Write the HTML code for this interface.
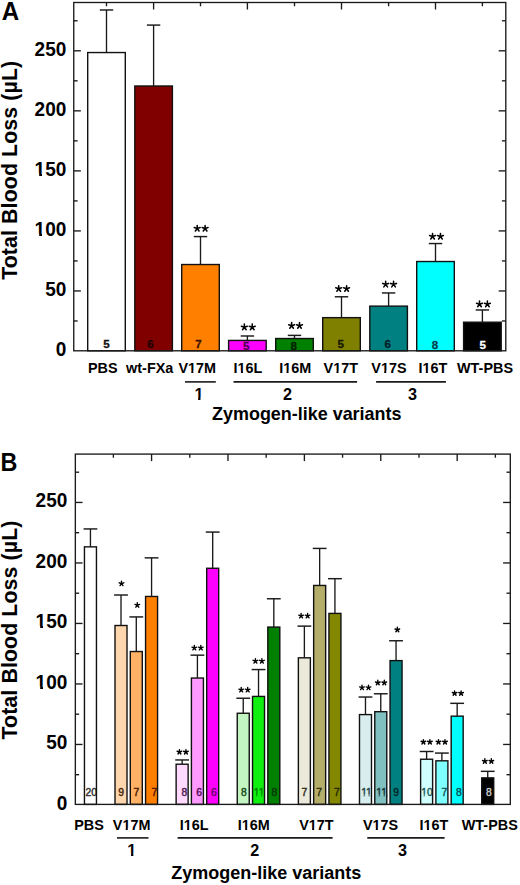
<!DOCTYPE html>
<html><head><meta charset="utf-8"><title>Total Blood Loss</title>
<style>
html,body{margin:0;padding:0;background:#fff;}
body{width:520px;height:885px;overflow:hidden;}
svg{display:block;font-family:"Liberation Sans", sans-serif;}
</style></head><body>
<svg width="520" height="885" viewBox="0 0 520 885">
<line x1="73.75" y1="320.98" x2="77.65" y2="320.98" stroke="#1a1a1a" stroke-width="1.35"/>
<line x1="505.80" y1="320.98" x2="501.90" y2="320.98" stroke="#1a1a1a" stroke-width="1.35"/>
<line x1="73.75" y1="290.96" x2="80.85" y2="290.96" stroke="#1a1a1a" stroke-width="1.35"/>
<line x1="505.80" y1="290.96" x2="498.70" y2="290.96" stroke="#1a1a1a" stroke-width="1.35"/>
<line x1="73.75" y1="260.94" x2="77.65" y2="260.94" stroke="#1a1a1a" stroke-width="1.35"/>
<line x1="505.80" y1="260.94" x2="501.90" y2="260.94" stroke="#1a1a1a" stroke-width="1.35"/>
<line x1="73.75" y1="230.92" x2="80.85" y2="230.92" stroke="#1a1a1a" stroke-width="1.35"/>
<line x1="505.80" y1="230.92" x2="498.70" y2="230.92" stroke="#1a1a1a" stroke-width="1.35"/>
<line x1="73.75" y1="200.90" x2="77.65" y2="200.90" stroke="#1a1a1a" stroke-width="1.35"/>
<line x1="505.80" y1="200.90" x2="501.90" y2="200.90" stroke="#1a1a1a" stroke-width="1.35"/>
<line x1="73.75" y1="170.88" x2="80.85" y2="170.88" stroke="#1a1a1a" stroke-width="1.35"/>
<line x1="505.80" y1="170.88" x2="498.70" y2="170.88" stroke="#1a1a1a" stroke-width="1.35"/>
<line x1="73.75" y1="140.86" x2="77.65" y2="140.86" stroke="#1a1a1a" stroke-width="1.35"/>
<line x1="505.80" y1="140.86" x2="501.90" y2="140.86" stroke="#1a1a1a" stroke-width="1.35"/>
<line x1="73.75" y1="110.84" x2="80.85" y2="110.84" stroke="#1a1a1a" stroke-width="1.35"/>
<line x1="505.80" y1="110.84" x2="498.70" y2="110.84" stroke="#1a1a1a" stroke-width="1.35"/>
<line x1="73.75" y1="80.82" x2="77.65" y2="80.82" stroke="#1a1a1a" stroke-width="1.35"/>
<line x1="505.80" y1="80.82" x2="501.90" y2="80.82" stroke="#1a1a1a" stroke-width="1.35"/>
<line x1="73.75" y1="50.80" x2="80.85" y2="50.80" stroke="#1a1a1a" stroke-width="1.35"/>
<line x1="505.80" y1="50.80" x2="498.70" y2="50.80" stroke="#1a1a1a" stroke-width="1.35"/>
<line x1="73.75" y1="20.78" x2="77.65" y2="20.78" stroke="#1a1a1a" stroke-width="1.35"/>
<line x1="505.80" y1="20.78" x2="501.90" y2="20.78" stroke="#1a1a1a" stroke-width="1.35"/>
<text transform="translate(66.30,356.20) scale(0.96,1)" font-size="19.8" font-weight="bold" text-anchor="end" fill="#000" >0</text>
<text transform="translate(66.30,296.16) scale(0.96,1)" font-size="19.8" font-weight="bold" text-anchor="end" fill="#000" >50</text>
<text transform="translate(66.30,236.12) scale(0.96,1)" font-size="19.8" font-weight="bold" text-anchor="end" fill="#000" >100</text>
<rect x="34.85" y="233.70" width="4.32" height="3.32" fill="#ffffff"/>
<rect x="42.00" y="233.70" width="4.07" height="3.32" fill="#ffffff"/>
<text transform="translate(66.30,176.08) scale(0.96,1)" font-size="19.8" font-weight="bold" text-anchor="end" fill="#000" >150</text>
<rect x="34.85" y="173.66" width="4.32" height="3.32" fill="#ffffff"/>
<rect x="42.00" y="173.66" width="4.07" height="3.32" fill="#ffffff"/>
<text transform="translate(66.30,116.04) scale(0.96,1)" font-size="19.8" font-weight="bold" text-anchor="end" fill="#000" >200</text>
<text transform="translate(66.30,56.00) scale(0.96,1)" font-size="19.8" font-weight="bold" text-anchor="end" fill="#000" >250</text>
<line x1="106.50" y1="2.50" x2="106.50" y2="6.30" stroke="#1a1a1a" stroke-width="1.35"/>
<rect x="87.70" y="52.55" width="37.60" height="298.25" fill="#ffffff"/>
<text x="106.45" y="347.60" font-size="11.6" font-weight="bold" text-anchor="middle" fill="#111" stroke="#111" stroke-width="0.3">5</text>
<rect x="87.70" y="52.55" width="37.60" height="298.25" fill="none" stroke="#111" stroke-width="1.4"/>
<line x1="106.50" y1="52.55" x2="106.50" y2="9.98" stroke="#1a1a1a" stroke-width="1.35"/>
<line x1="99.80" y1="9.98" x2="113.20" y2="9.98" stroke="#1a1a1a" stroke-width="1.45"/>
<line x1="153.60" y1="2.50" x2="153.60" y2="9.50" stroke="#1a1a1a" stroke-width="1.35"/>
<rect x="134.80" y="86.00" width="37.60" height="264.80" fill="#800000"/>
<text x="150.60" y="347.70" font-size="11.6" font-weight="bold" text-anchor="middle" fill="#200000" stroke="#200000" stroke-width="0.3">6</text>
<rect x="134.80" y="86.00" width="37.60" height="264.80" fill="none" stroke="#111" stroke-width="1.4"/>
<line x1="153.60" y1="86.00" x2="153.60" y2="25.09" stroke="#1a1a1a" stroke-width="1.35"/>
<line x1="146.90" y1="25.09" x2="160.30" y2="25.09" stroke="#1a1a1a" stroke-width="1.45"/>
<line x1="200.50" y1="2.50" x2="200.50" y2="6.30" stroke="#1a1a1a" stroke-width="1.35"/>
<rect x="181.70" y="264.53" width="37.60" height="86.27" fill="#ff8000"/>
<text x="198.60" y="347.70" font-size="11.6" font-weight="bold" text-anchor="middle" fill="#401400" stroke="#401400" stroke-width="0.3">7</text>
<rect x="181.70" y="264.53" width="37.60" height="86.27" fill="none" stroke="#111" stroke-width="1.4"/>
<line x1="200.50" y1="264.53" x2="200.50" y2="236.59" stroke="#1a1a1a" stroke-width="1.35"/>
<line x1="193.80" y1="236.59" x2="207.20" y2="236.59" stroke="#1a1a1a" stroke-width="1.45"/>
<path d="M197.20 228.50L197.20 225.40M197.20 228.50L200.15 227.54M197.20 228.50L199.02 231.00M197.20 228.50L195.38 231.00M197.20 228.50L194.25 227.54" stroke="#000" stroke-width="1.55" stroke-linecap="round" fill="none"/>
<path d="M205.10 228.50L205.10 225.40M205.10 228.50L208.05 227.54M205.10 228.50L206.92 231.00M205.10 228.50L203.28 231.00M205.10 228.50L202.15 227.54" stroke="#000" stroke-width="1.55" stroke-linecap="round" fill="none"/>
<line x1="247.40" y1="2.50" x2="247.40" y2="9.50" stroke="#1a1a1a" stroke-width="1.35"/>
<rect x="228.60" y="340.43" width="37.60" height="10.37" fill="#ff00ff"/>
<text x="246.25" y="350.20" font-size="11.6" font-weight="bold" text-anchor="middle" fill="#500050" stroke="#500050" stroke-width="0.3">5</text>
<rect x="228.60" y="340.43" width="37.60" height="10.37" fill="none" stroke="#111" stroke-width="1.4"/>
<line x1="247.40" y1="340.43" x2="247.40" y2="335.99" stroke="#1a1a1a" stroke-width="1.35"/>
<line x1="240.70" y1="335.99" x2="254.10" y2="335.99" stroke="#1a1a1a" stroke-width="1.45"/>
<path d="M244.35 327.20L244.35 324.10M244.35 327.20L247.30 326.24M244.35 327.20L246.17 329.70M244.35 327.20L242.53 329.70M244.35 327.20L241.40 326.24" stroke="#000" stroke-width="1.55" stroke-linecap="round" fill="none"/>
<path d="M252.25 327.20L252.25 324.10M252.25 327.20L255.20 326.24M252.25 327.20L254.07 329.70M252.25 327.20L250.43 329.70M252.25 327.20L249.30 326.24" stroke="#000" stroke-width="1.55" stroke-linecap="round" fill="none"/>
<line x1="294.50" y1="2.50" x2="294.50" y2="6.30" stroke="#1a1a1a" stroke-width="1.35"/>
<rect x="275.70" y="338.51" width="37.60" height="12.29" fill="#008000"/>
<text x="293.85" y="350.20" font-size="11.6" font-weight="bold" text-anchor="middle" fill="#002000" stroke="#002000" stroke-width="0.3">8</text>
<rect x="275.70" y="338.51" width="37.60" height="12.29" fill="none" stroke="#111" stroke-width="1.4"/>
<line x1="294.50" y1="338.51" x2="294.50" y2="335.39" stroke="#1a1a1a" stroke-width="1.35"/>
<line x1="287.80" y1="335.39" x2="301.20" y2="335.39" stroke="#1a1a1a" stroke-width="1.45"/>
<path d="M291.60 325.70L291.60 322.60M291.60 325.70L294.55 324.74M291.60 325.70L293.42 328.20M291.60 325.70L289.78 328.20M291.60 325.70L288.65 324.74" stroke="#000" stroke-width="1.55" stroke-linecap="round" fill="none"/>
<path d="M299.50 325.70L299.50 322.60M299.50 325.70L302.45 324.74M299.50 325.70L301.32 328.20M299.50 325.70L297.68 328.20M299.50 325.70L296.55 324.74" stroke="#000" stroke-width="1.55" stroke-linecap="round" fill="none"/>
<line x1="341.50" y1="2.50" x2="341.50" y2="9.50" stroke="#1a1a1a" stroke-width="1.35"/>
<rect x="322.70" y="317.65" width="37.60" height="33.15" fill="#808000"/>
<text x="340.75" y="348.20" font-size="11.6" font-weight="bold" text-anchor="middle" fill="#181800" stroke="#181800" stroke-width="0.3">5</text>
<rect x="322.70" y="317.65" width="37.60" height="33.15" fill="none" stroke="#111" stroke-width="1.4"/>
<line x1="341.50" y1="317.65" x2="341.50" y2="296.78" stroke="#1a1a1a" stroke-width="1.35"/>
<line x1="334.80" y1="296.78" x2="348.20" y2="296.78" stroke="#1a1a1a" stroke-width="1.45"/>
<path d="M338.70 288.75L338.70 285.65M338.70 288.75L341.65 287.79M338.70 288.75L340.52 291.25M338.70 288.75L336.88 291.25M338.70 288.75L335.75 287.79" stroke="#000" stroke-width="1.55" stroke-linecap="round" fill="none"/>
<path d="M346.60 288.75L346.60 285.65M346.60 288.75L349.55 287.79M346.60 288.75L348.42 291.25M346.60 288.75L344.78 291.25M346.60 288.75L343.65 287.79" stroke="#000" stroke-width="1.55" stroke-linecap="round" fill="none"/>
<line x1="388.60" y1="2.50" x2="388.60" y2="6.30" stroke="#1a1a1a" stroke-width="1.35"/>
<rect x="369.80" y="306.14" width="37.60" height="44.66" fill="#008080"/>
<text x="387.70" y="348.20" font-size="11.6" font-weight="bold" text-anchor="middle" fill="#06202a" stroke="#06202a" stroke-width="0.3">6</text>
<rect x="369.80" y="306.14" width="37.60" height="44.66" fill="none" stroke="#111" stroke-width="1.4"/>
<line x1="388.60" y1="306.14" x2="388.60" y2="292.95" stroke="#1a1a1a" stroke-width="1.35"/>
<line x1="381.90" y1="292.95" x2="395.30" y2="292.95" stroke="#1a1a1a" stroke-width="1.45"/>
<path d="M385.65 284.35L385.65 281.25M385.65 284.35L388.60 283.39M385.65 284.35L387.47 286.85M385.65 284.35L383.83 286.85M385.65 284.35L382.70 283.39" stroke="#000" stroke-width="1.55" stroke-linecap="round" fill="none"/>
<path d="M393.55 284.35L393.55 281.25M393.55 284.35L396.50 283.39M393.55 284.35L395.37 286.85M393.55 284.35L391.73 286.85M393.55 284.35L390.60 283.39" stroke="#000" stroke-width="1.55" stroke-linecap="round" fill="none"/>
<line x1="435.50" y1="2.50" x2="435.50" y2="9.50" stroke="#1a1a1a" stroke-width="1.35"/>
<rect x="416.70" y="261.53" width="37.60" height="89.27" fill="#00ffff"/>
<text x="435.05" y="348.90" font-size="11.6" font-weight="bold" text-anchor="middle" fill="#0a4050" stroke="#0a4050" stroke-width="0.3">8</text>
<rect x="416.70" y="261.53" width="37.60" height="89.27" fill="none" stroke="#111" stroke-width="1.4"/>
<line x1="435.50" y1="261.53" x2="435.50" y2="243.55" stroke="#1a1a1a" stroke-width="1.35"/>
<line x1="428.80" y1="243.55" x2="442.20" y2="243.55" stroke="#1a1a1a" stroke-width="1.45"/>
<path d="M432.55 236.55L432.55 233.45M432.55 236.55L435.50 235.59M432.55 236.55L434.37 239.05M432.55 236.55L430.73 239.05M432.55 236.55L429.60 235.59" stroke="#000" stroke-width="1.55" stroke-linecap="round" fill="none"/>
<path d="M440.45 236.55L440.45 233.45M440.45 236.55L443.40 235.59M440.45 236.55L442.27 239.05M440.45 236.55L438.63 239.05M440.45 236.55L437.50 235.59" stroke="#000" stroke-width="1.55" stroke-linecap="round" fill="none"/>
<line x1="482.40" y1="2.50" x2="482.40" y2="6.30" stroke="#1a1a1a" stroke-width="1.35"/>
<rect x="463.60" y="322.20" width="37.60" height="28.60" fill="#000000"/>
<text x="482.80" y="348.90" font-size="11.6" font-weight="bold" text-anchor="middle" fill="#ffffff" stroke="#ffffff" stroke-width="0.3">5</text>
<rect x="463.60" y="322.20" width="37.60" height="28.60" fill="none" stroke="#111" stroke-width="1.4"/>
<line x1="482.40" y1="322.20" x2="482.40" y2="309.97" stroke="#1a1a1a" stroke-width="1.35"/>
<line x1="475.70" y1="309.97" x2="489.10" y2="309.97" stroke="#1a1a1a" stroke-width="1.45"/>
<path d="M479.50 304.20L479.50 301.10M479.50 304.20L482.45 303.24M479.50 304.20L481.32 306.70M479.50 304.20L477.68 306.70M479.50 304.20L476.55 303.24" stroke="#000" stroke-width="1.55" stroke-linecap="round" fill="none"/>
<path d="M487.40 304.20L487.40 301.10M487.40 304.20L490.35 303.24M487.40 304.20L489.22 306.70M487.40 304.20L485.58 306.70M487.40 304.20L484.45 303.24" stroke="#000" stroke-width="1.55" stroke-linecap="round" fill="none"/>
<rect x="73.75" y="2.5" width="432.05" height="348.30" fill="none" stroke="#1a1a1a" stroke-width="1.35"/>
<text transform="translate(102.80,372.60) scale(1,1.02)" font-size="14.4" font-weight="bold" text-anchor="middle" fill="#000" >PBS</text>
<text transform="translate(149.70,372.60) scale(1,1.02)" font-size="14.4" font-weight="bold" text-anchor="middle" fill="#000" >wt-FXa</text>
<text transform="translate(197.20,372.60) scale(1,1.02)" font-size="14.4" font-weight="bold" text-anchor="middle" fill="#000" >V17M</text>
<rect x="187.90" y="370.70" width="3.40" height="2.80" fill="#ffffff"/>
<rect x="193.38" y="370.70" width="3.22" height="2.80" fill="#ffffff"/>
<text transform="translate(248.00,372.60) scale(1,1.02)" font-size="14.4" font-weight="bold" text-anchor="middle" fill="#000" >I16L</text>
<rect x="237.50" y="370.70" width="3.40" height="2.80" fill="#ffffff"/>
<rect x="242.98" y="370.70" width="3.22" height="2.80" fill="#ffffff"/>
<text transform="translate(295.20,372.60) scale(1,1.02)" font-size="14.4" font-weight="bold" text-anchor="middle" fill="#000" >I16M</text>
<rect x="283.10" y="370.70" width="3.40" height="2.80" fill="#ffffff"/>
<rect x="288.58" y="370.70" width="3.22" height="2.80" fill="#ffffff"/>
<text transform="translate(340.75,372.60) scale(1,1.02)" font-size="14.4" font-weight="bold" text-anchor="middle" fill="#000" >V17T</text>
<rect x="333.05" y="370.70" width="3.40" height="2.80" fill="#ffffff"/>
<rect x="338.53" y="370.70" width="3.22" height="2.80" fill="#ffffff"/>
<text transform="translate(388.90,372.60) scale(1,1.02)" font-size="14.4" font-weight="bold" text-anchor="middle" fill="#000" >V17S</text>
<rect x="380.79" y="370.70" width="3.40" height="2.80" fill="#ffffff"/>
<rect x="386.27" y="370.70" width="3.22" height="2.80" fill="#ffffff"/>
<text transform="translate(432.90,372.60) scale(1,1.02)" font-size="14.4" font-weight="bold" text-anchor="middle" fill="#000" >I16T</text>
<rect x="422.40" y="370.70" width="3.40" height="2.80" fill="#ffffff"/>
<rect x="427.88" y="370.70" width="3.22" height="2.80" fill="#ffffff"/>
<text transform="translate(485.00,372.60) scale(1,1.02)" font-size="14.4" font-weight="bold" text-anchor="middle" fill="#000" >WT-PBS</text>
<line x1="185.00" y1="381.90" x2="215.80" y2="381.90" stroke="#1a1a1a" stroke-width="1.6"/>
<line x1="233.50" y1="381.90" x2="357.10" y2="381.90" stroke="#1a1a1a" stroke-width="1.6"/>
<line x1="376.10" y1="381.90" x2="445.90" y2="381.90" stroke="#1a1a1a" stroke-width="1.6"/>
<text x="198.90" y="399.90" font-size="16.2" font-weight="bold" text-anchor="middle" fill="#000" >1</text>
<rect x="194.41" y="397.85" width="3.71" height="2.95" fill="#ffffff"/>
<rect x="200.45" y="397.85" width="3.50" height="2.95" fill="#ffffff"/>
<text x="287.50" y="399.90" font-size="16.2" font-weight="bold" text-anchor="middle" fill="#000" >2</text>
<text x="412.50" y="399.90" font-size="16.2" font-weight="bold" text-anchor="middle" fill="#000" >3</text>
<text transform="translate(306.75,420.20) scale(1,1.06)" font-size="17.95" font-weight="bold" text-anchor="middle" fill="#000" >Zymogen-like variants</text>
<text transform="translate(1.80,19.95) scale(0.985,1.03)" font-size="24.5" font-weight="bold" text-anchor="start" fill="#000" >A</text>
<text transform="translate(17.4,170.3) rotate(-90)" x="0" y="0" font-size="21.3" font-weight="bold" text-anchor="middle" letter-spacing="0.12">Total Blood Loss (µL)</text>
<line x1="75.35" y1="774.70" x2="79.15" y2="774.70" stroke="#1a1a1a" stroke-width="1.35"/>
<line x1="510.30" y1="774.70" x2="506.50" y2="774.70" stroke="#1a1a1a" stroke-width="1.35"/>
<line x1="75.35" y1="744.45" x2="82.55" y2="744.45" stroke="#1a1a1a" stroke-width="1.35"/>
<line x1="510.30" y1="744.45" x2="503.10" y2="744.45" stroke="#1a1a1a" stroke-width="1.35"/>
<line x1="75.35" y1="714.20" x2="79.15" y2="714.20" stroke="#1a1a1a" stroke-width="1.35"/>
<line x1="510.30" y1="714.20" x2="506.50" y2="714.20" stroke="#1a1a1a" stroke-width="1.35"/>
<line x1="75.35" y1="683.95" x2="82.55" y2="683.95" stroke="#1a1a1a" stroke-width="1.35"/>
<line x1="510.30" y1="683.95" x2="503.10" y2="683.95" stroke="#1a1a1a" stroke-width="1.35"/>
<line x1="75.35" y1="653.70" x2="79.15" y2="653.70" stroke="#1a1a1a" stroke-width="1.35"/>
<line x1="510.30" y1="653.70" x2="506.50" y2="653.70" stroke="#1a1a1a" stroke-width="1.35"/>
<line x1="75.35" y1="623.45" x2="82.55" y2="623.45" stroke="#1a1a1a" stroke-width="1.35"/>
<line x1="510.30" y1="623.45" x2="503.10" y2="623.45" stroke="#1a1a1a" stroke-width="1.35"/>
<line x1="75.35" y1="593.20" x2="79.15" y2="593.20" stroke="#1a1a1a" stroke-width="1.35"/>
<line x1="510.30" y1="593.20" x2="506.50" y2="593.20" stroke="#1a1a1a" stroke-width="1.35"/>
<line x1="75.35" y1="562.95" x2="82.55" y2="562.95" stroke="#1a1a1a" stroke-width="1.35"/>
<line x1="510.30" y1="562.95" x2="503.10" y2="562.95" stroke="#1a1a1a" stroke-width="1.35"/>
<line x1="75.35" y1="532.70" x2="79.15" y2="532.70" stroke="#1a1a1a" stroke-width="1.35"/>
<line x1="510.30" y1="532.70" x2="506.50" y2="532.70" stroke="#1a1a1a" stroke-width="1.35"/>
<line x1="75.35" y1="502.45" x2="82.55" y2="502.45" stroke="#1a1a1a" stroke-width="1.35"/>
<line x1="510.30" y1="502.45" x2="503.10" y2="502.45" stroke="#1a1a1a" stroke-width="1.35"/>
<line x1="75.35" y1="472.20" x2="79.15" y2="472.20" stroke="#1a1a1a" stroke-width="1.35"/>
<line x1="510.30" y1="472.20" x2="506.50" y2="472.20" stroke="#1a1a1a" stroke-width="1.35"/>
<text transform="translate(67.30,809.90) scale(0.96,1)" font-size="19.8" font-weight="bold" text-anchor="end" fill="#000" >0</text>
<text transform="translate(67.30,749.40) scale(0.96,1)" font-size="19.8" font-weight="bold" text-anchor="end" fill="#000" >50</text>
<text transform="translate(67.30,688.90) scale(0.96,1)" font-size="19.8" font-weight="bold" text-anchor="end" fill="#000" >100</text>
<rect x="35.85" y="686.48" width="4.32" height="3.32" fill="#ffffff"/>
<rect x="43.00" y="686.48" width="4.07" height="3.32" fill="#ffffff"/>
<text transform="translate(67.30,628.40) scale(0.96,1)" font-size="19.8" font-weight="bold" text-anchor="end" fill="#000" >150</text>
<rect x="35.85" y="625.98" width="4.32" height="3.32" fill="#ffffff"/>
<rect x="43.00" y="625.98" width="4.07" height="3.32" fill="#ffffff"/>
<text transform="translate(67.30,567.90) scale(0.96,1)" font-size="19.8" font-weight="bold" text-anchor="end" fill="#000" >200</text>
<text transform="translate(67.30,507.40) scale(0.96,1)" font-size="19.8" font-weight="bold" text-anchor="end" fill="#000" >250</text>
<line x1="113.37" y1="454.10" x2="113.37" y2="457.70" stroke="#1a1a1a" stroke-width="1.35"/>
<line x1="151.57" y1="454.10" x2="151.57" y2="461.10" stroke="#1a1a1a" stroke-width="1.35"/>
<line x1="189.77" y1="454.10" x2="189.77" y2="457.70" stroke="#1a1a1a" stroke-width="1.35"/>
<line x1="227.97" y1="454.10" x2="227.97" y2="461.10" stroke="#1a1a1a" stroke-width="1.35"/>
<line x1="266.17" y1="454.10" x2="266.17" y2="457.70" stroke="#1a1a1a" stroke-width="1.35"/>
<line x1="304.37" y1="454.10" x2="304.37" y2="461.10" stroke="#1a1a1a" stroke-width="1.35"/>
<line x1="342.57" y1="454.10" x2="342.57" y2="457.70" stroke="#1a1a1a" stroke-width="1.35"/>
<line x1="380.77" y1="454.10" x2="380.77" y2="461.10" stroke="#1a1a1a" stroke-width="1.35"/>
<line x1="418.97" y1="454.10" x2="418.97" y2="457.70" stroke="#1a1a1a" stroke-width="1.35"/>
<line x1="457.17" y1="454.10" x2="457.17" y2="461.10" stroke="#1a1a1a" stroke-width="1.35"/>
<line x1="495.37" y1="454.10" x2="495.37" y2="457.70" stroke="#1a1a1a" stroke-width="1.35"/>
<rect x="84.45" y="546.85" width="12.00" height="257.55" fill="#ffffff"/>
<text x="91.25" y="795.80" font-size="10.3" font-weight="normal" text-anchor="middle" fill="#333" stroke="#333" stroke-width="0.45">20</text>
<rect x="84.45" y="546.85" width="12.00" height="257.55" fill="none" stroke="#111" stroke-width="1.4"/>
<line x1="90.45" y1="546.85" x2="90.45" y2="528.94" stroke="#1a1a1a" stroke-width="1.35"/>
<line x1="83.55" y1="528.94" x2="97.35" y2="528.94" stroke="#1a1a1a" stroke-width="1.45"/>
<rect x="115.01" y="625.51" width="12.00" height="178.89" fill="#fdd6ae"/>
<text x="121.21" y="795.80" font-size="10.3" font-weight="normal" text-anchor="middle" fill="#4a2a10" stroke="#4a2a10" stroke-width="0.45">9</text>
<rect x="115.01" y="625.51" width="12.00" height="178.89" fill="none" stroke="#111" stroke-width="1.4"/>
<line x1="121.01" y1="625.51" x2="121.01" y2="595.01" stroke="#1a1a1a" stroke-width="1.35"/>
<line x1="114.11" y1="595.01" x2="127.91" y2="595.01" stroke="#1a1a1a" stroke-width="1.45"/>
<path d="M121.50 583.58L121.50 581.13M121.50 583.58L123.83 582.83M121.50 583.58L122.94 585.57M121.50 583.58L120.06 585.57M121.50 583.58L119.17 582.83" stroke="#000" stroke-width="1.4" stroke-linecap="round" fill="none"/>
<rect x="130.29" y="651.53" width="12.00" height="152.87" fill="#ffb266"/>
<text x="136.29" y="795.80" font-size="10.3" font-weight="normal" text-anchor="middle" fill="#4a2000" stroke="#4a2000" stroke-width="0.45">7</text>
<rect x="130.29" y="651.53" width="12.00" height="152.87" fill="none" stroke="#111" stroke-width="1.4"/>
<line x1="136.29" y1="651.53" x2="136.29" y2="616.92" stroke="#1a1a1a" stroke-width="1.35"/>
<line x1="129.39" y1="616.92" x2="143.19" y2="616.92" stroke="#1a1a1a" stroke-width="1.45"/>
<path d="M137.30 605.18L137.30 602.73M137.30 605.18L139.63 604.43M137.30 605.18L138.74 607.17M137.30 605.18L135.86 607.17M137.30 605.18L134.97 604.43" stroke="#000" stroke-width="1.4" stroke-linecap="round" fill="none"/>
<rect x="145.57" y="596.47" width="12.00" height="207.93" fill="#ff8000"/>
<text x="154.37" y="795.80" font-size="10.3" font-weight="normal" text-anchor="middle" fill="#5a1800" stroke="#5a1800" stroke-width="0.45">7</text>
<rect x="145.57" y="596.47" width="12.00" height="207.93" fill="none" stroke="#111" stroke-width="1.4"/>
<line x1="151.57" y1="596.47" x2="151.57" y2="557.86" stroke="#1a1a1a" stroke-width="1.35"/>
<line x1="144.67" y1="557.86" x2="158.47" y2="557.86" stroke="#1a1a1a" stroke-width="1.45"/>
<rect x="176.13" y="764.20" width="12.00" height="40.20" fill="#ffd9ff"/>
<text x="184.43" y="795.80" font-size="10.3" font-weight="normal" text-anchor="middle" fill="#501850" stroke="#501850" stroke-width="0.45">8</text>
<rect x="176.13" y="764.20" width="12.00" height="40.20" fill="none" stroke="#111" stroke-width="1.4"/>
<line x1="182.13" y1="764.20" x2="182.13" y2="759.96" stroke="#1a1a1a" stroke-width="1.35"/>
<line x1="175.23" y1="759.96" x2="189.03" y2="759.96" stroke="#1a1a1a" stroke-width="1.45"/>
<path d="M179.45 752.03L179.45 749.58M179.45 752.03L181.78 751.28M179.45 752.03L180.89 754.02M179.45 752.03L178.01 754.02M179.45 752.03L177.12 751.28" stroke="#000" stroke-width="1.4" stroke-linecap="round" fill="none"/>
<path d="M185.95 752.03L185.95 749.58M185.95 752.03L188.28 751.28M185.95 752.03L187.39 754.02M185.95 752.03L184.51 754.02M185.95 752.03L183.62 751.28" stroke="#000" stroke-width="1.4" stroke-linecap="round" fill="none"/>
<rect x="191.41" y="678.03" width="12.00" height="126.37" fill="#ff99ff"/>
<text x="199.21" y="795.80" font-size="10.3" font-weight="normal" text-anchor="middle" fill="#581058" stroke="#581058" stroke-width="0.45">6</text>
<rect x="191.41" y="678.03" width="12.00" height="126.37" fill="none" stroke="#111" stroke-width="1.4"/>
<line x1="197.41" y1="678.03" x2="197.41" y2="655.16" stroke="#1a1a1a" stroke-width="1.35"/>
<line x1="190.51" y1="655.16" x2="204.31" y2="655.16" stroke="#1a1a1a" stroke-width="1.45"/>
<path d="M194.30 647.88L194.30 645.43M194.30 647.88L196.63 647.13M194.30 647.88L195.74 649.87M194.30 647.88L192.86 649.87M194.30 647.88L191.97 647.13" stroke="#000" stroke-width="1.4" stroke-linecap="round" fill="none"/>
<path d="M200.80 647.88L200.80 645.43M200.80 647.88L203.13 647.13M200.80 647.88L202.24 649.87M200.80 647.88L199.36 649.87M200.80 647.88L198.47 647.13" stroke="#000" stroke-width="1.4" stroke-linecap="round" fill="none"/>
<rect x="206.69" y="568.27" width="12.00" height="236.13" fill="#ff00ff"/>
<text x="213.99" y="795.80" font-size="10.3" font-weight="normal" text-anchor="middle" fill="#700070" stroke="#700070" stroke-width="0.45">6</text>
<rect x="206.69" y="568.27" width="12.00" height="236.13" fill="none" stroke="#111" stroke-width="1.4"/>
<line x1="212.69" y1="568.27" x2="212.69" y2="532.08" stroke="#1a1a1a" stroke-width="1.35"/>
<line x1="205.79" y1="532.08" x2="219.59" y2="532.08" stroke="#1a1a1a" stroke-width="1.45"/>
<rect x="237.25" y="713.25" width="12.00" height="91.15" fill="#c2f5c2"/>
<text x="243.75" y="795.80" font-size="10.3" font-weight="normal" text-anchor="middle" fill="#1a4a1a" stroke="#1a4a1a" stroke-width="0.45">8</text>
<rect x="237.25" y="713.25" width="12.00" height="91.15" fill="none" stroke="#111" stroke-width="1.4"/>
<line x1="243.25" y1="713.25" x2="243.25" y2="698.24" stroke="#1a1a1a" stroke-width="1.35"/>
<line x1="236.35" y1="698.24" x2="250.15" y2="698.24" stroke="#1a1a1a" stroke-width="1.45"/>
<path d="M241.20 689.88L241.20 687.43M241.20 689.88L243.53 689.13M241.20 689.88L242.64 691.87M241.20 689.88L239.76 691.87M241.20 689.88L238.87 689.13" stroke="#000" stroke-width="1.4" stroke-linecap="round" fill="none"/>
<path d="M247.70 689.88L247.70 687.43M247.70 689.88L250.03 689.13M247.70 689.88L249.14 691.87M247.70 689.88L246.26 691.87M247.70 689.88L245.37 689.13" stroke="#000" stroke-width="1.4" stroke-linecap="round" fill="none"/>
<rect x="252.53" y="696.43" width="12.00" height="107.97" fill="#10f010"/>
<text x="259.03" y="795.80" font-size="10.3" font-weight="normal" text-anchor="middle" fill="#008800" stroke="#008800" stroke-width="0.45">11</text>
<rect x="253.23" y="794.40" width="2.99" height="2.30" fill="#10f010"/>
<rect x="257.23" y="794.40" width="2.91" height="2.30" fill="#10f010"/>
<rect x="258.19" y="794.40" width="2.99" height="2.30" fill="#10f010"/>
<rect x="262.18" y="794.40" width="2.91" height="2.30" fill="#10f010"/>
<rect x="252.53" y="696.43" width="12.00" height="107.97" fill="none" stroke="#111" stroke-width="1.4"/>
<line x1="258.53" y1="696.43" x2="258.53" y2="669.56" stroke="#1a1a1a" stroke-width="1.35"/>
<line x1="251.63" y1="669.56" x2="265.43" y2="669.56" stroke="#1a1a1a" stroke-width="1.45"/>
<path d="M255.40 661.08L255.40 658.63M255.40 661.08L257.73 660.33M255.40 661.08L256.84 663.07M255.40 661.08L253.96 663.07M255.40 661.08L253.07 660.33" stroke="#000" stroke-width="1.4" stroke-linecap="round" fill="none"/>
<path d="M261.90 661.08L261.90 658.63M261.90 661.08L264.23 660.33M261.90 661.08L263.34 663.07M261.90 661.08L260.46 663.07M261.90 661.08L259.57 660.33" stroke="#000" stroke-width="1.4" stroke-linecap="round" fill="none"/>
<rect x="267.81" y="627.08" width="12.00" height="177.32" fill="#008000"/>
<text x="274.31" y="795.80" font-size="10.3" font-weight="normal" text-anchor="middle" fill="#003a00" stroke="#003a00" stroke-width="0.45">8</text>
<rect x="267.81" y="627.08" width="12.00" height="177.32" fill="none" stroke="#111" stroke-width="1.4"/>
<line x1="273.81" y1="627.08" x2="273.81" y2="598.77" stroke="#1a1a1a" stroke-width="1.35"/>
<line x1="266.91" y1="598.77" x2="280.71" y2="598.77" stroke="#1a1a1a" stroke-width="1.45"/>
<rect x="298.37" y="657.82" width="12.00" height="146.58" fill="#eae9da"/>
<text x="304.27" y="795.80" font-size="10.3" font-weight="normal" text-anchor="middle" fill="#303020" stroke="#303020" stroke-width="0.45">7</text>
<rect x="298.37" y="657.82" width="12.00" height="146.58" fill="none" stroke="#111" stroke-width="1.4"/>
<line x1="304.37" y1="657.82" x2="304.37" y2="626.12" stroke="#1a1a1a" stroke-width="1.35"/>
<line x1="297.47" y1="626.12" x2="311.27" y2="626.12" stroke="#1a1a1a" stroke-width="1.45"/>
<path d="M301.10 615.88L301.10 613.43M301.10 615.88L303.43 615.13M301.10 615.88L302.54 617.87M301.10 615.88L299.66 617.87M301.10 615.88L298.77 615.13" stroke="#000" stroke-width="1.4" stroke-linecap="round" fill="none"/>
<path d="M307.60 615.88L307.60 613.43M307.60 615.88L309.93 615.13M307.60 615.88L309.04 617.87M307.60 615.88L306.16 617.87M307.60 615.88L305.27 615.13" stroke="#000" stroke-width="1.4" stroke-linecap="round" fill="none"/>
<rect x="313.65" y="585.45" width="12.00" height="218.95" fill="#b5ae6a"/>
<text x="319.05" y="795.80" font-size="10.3" font-weight="normal" text-anchor="middle" fill="#303010" stroke="#303010" stroke-width="0.45">7</text>
<rect x="313.65" y="585.45" width="12.00" height="218.95" fill="none" stroke="#111" stroke-width="1.4"/>
<line x1="319.65" y1="585.45" x2="319.65" y2="548.42" stroke="#1a1a1a" stroke-width="1.35"/>
<line x1="312.75" y1="548.42" x2="326.55" y2="548.42" stroke="#1a1a1a" stroke-width="1.45"/>
<rect x="328.93" y="613.41" width="12.00" height="190.99" fill="#848700"/>
<text x="336.83" y="795.80" font-size="10.3" font-weight="normal" text-anchor="middle" fill="#282800" stroke="#282800" stroke-width="0.45">7</text>
<rect x="328.93" y="613.41" width="12.00" height="190.99" fill="none" stroke="#111" stroke-width="1.4"/>
<line x1="334.93" y1="613.41" x2="334.93" y2="578.68" stroke="#1a1a1a" stroke-width="1.35"/>
<line x1="328.03" y1="578.68" x2="341.83" y2="578.68" stroke="#1a1a1a" stroke-width="1.45"/>
<rect x="359.49" y="714.58" width="12.00" height="89.82" fill="#d8eeee"/>
<text x="366.49" y="795.80" font-size="10.3" font-weight="normal" text-anchor="middle" fill="#284848" stroke="#284848" stroke-width="0.45">11</text>
<rect x="360.69" y="794.40" width="2.99" height="2.30" fill="#d8eeee"/>
<rect x="364.69" y="794.40" width="2.91" height="2.30" fill="#d8eeee"/>
<rect x="365.65" y="794.40" width="2.99" height="2.30" fill="#d8eeee"/>
<rect x="369.64" y="794.40" width="2.91" height="2.30" fill="#d8eeee"/>
<rect x="359.49" y="714.58" width="12.00" height="89.82" fill="none" stroke="#111" stroke-width="1.4"/>
<line x1="365.49" y1="714.58" x2="365.49" y2="697.03" stroke="#1a1a1a" stroke-width="1.35"/>
<line x1="358.59" y1="697.03" x2="372.39" y2="697.03" stroke="#1a1a1a" stroke-width="1.45"/>
<path d="M362.00 687.63L362.00 685.18M362.00 687.63L364.33 686.88M362.00 687.63L363.44 689.62M362.00 687.63L360.56 689.62M362.00 687.63L359.67 686.88" stroke="#000" stroke-width="1.4" stroke-linecap="round" fill="none"/>
<path d="M368.50 687.63L368.50 685.18M368.50 687.63L370.83 686.88M368.50 687.63L369.94 689.62M368.50 687.63L367.06 689.62M368.50 687.63L366.17 686.88" stroke="#000" stroke-width="1.4" stroke-linecap="round" fill="none"/>
<rect x="374.77" y="711.68" width="12.00" height="92.72" fill="#80c0c0"/>
<text x="381.57" y="795.80" font-size="10.3" font-weight="normal" text-anchor="middle" fill="#183838" stroke="#183838" stroke-width="0.45">11</text>
<rect x="375.77" y="794.40" width="2.99" height="2.30" fill="#80c0c0"/>
<rect x="379.77" y="794.40" width="2.91" height="2.30" fill="#80c0c0"/>
<rect x="380.73" y="794.40" width="2.99" height="2.30" fill="#80c0c0"/>
<rect x="384.72" y="794.40" width="2.91" height="2.30" fill="#80c0c0"/>
<rect x="374.77" y="711.68" width="12.00" height="92.72" fill="none" stroke="#111" stroke-width="1.4"/>
<line x1="380.77" y1="711.68" x2="380.77" y2="693.77" stroke="#1a1a1a" stroke-width="1.35"/>
<line x1="373.87" y1="693.77" x2="387.67" y2="693.77" stroke="#1a1a1a" stroke-width="1.45"/>
<path d="M377.80 682.73L377.80 680.28M377.80 682.73L380.13 681.98M377.80 682.73L379.24 684.72M377.80 682.73L376.36 684.72M377.80 682.73L375.47 681.98" stroke="#000" stroke-width="1.4" stroke-linecap="round" fill="none"/>
<path d="M384.30 682.73L384.30 680.28M384.30 682.73L386.63 681.98M384.30 682.73L385.74 684.72M384.30 682.73L382.86 684.72M384.30 682.73L381.97 681.98" stroke="#000" stroke-width="1.4" stroke-linecap="round" fill="none"/>
<rect x="390.05" y="660.61" width="12.00" height="143.79" fill="#008080"/>
<text x="396.05" y="795.80" font-size="10.3" font-weight="normal" text-anchor="middle" fill="#002828" stroke="#002828" stroke-width="0.45">9</text>
<rect x="390.05" y="660.61" width="12.00" height="143.79" fill="none" stroke="#111" stroke-width="1.4"/>
<line x1="396.05" y1="660.61" x2="396.05" y2="640.76" stroke="#1a1a1a" stroke-width="1.35"/>
<line x1="389.15" y1="640.76" x2="402.95" y2="640.76" stroke="#1a1a1a" stroke-width="1.45"/>
<path d="M397.35 629.73L397.35 627.28M397.35 629.73L399.68 628.98M397.35 629.73L398.79 631.72M397.35 629.73L395.91 631.72M397.35 629.73L395.02 628.98" stroke="#000" stroke-width="1.4" stroke-linecap="round" fill="none"/>
<rect x="420.61" y="759.24" width="12.00" height="45.16" fill="#d0ffff"/>
<text x="426.91" y="795.80" font-size="10.3" font-weight="normal" text-anchor="middle" fill="#285858" stroke="#285858" stroke-width="0.45">10</text>
<rect x="420.73" y="794.40" width="2.99" height="2.30" fill="#d0ffff"/>
<rect x="424.73" y="794.40" width="2.91" height="2.30" fill="#d0ffff"/>
<rect x="420.61" y="759.24" width="12.00" height="45.16" fill="none" stroke="#111" stroke-width="1.4"/>
<line x1="426.61" y1="759.24" x2="426.61" y2="751.49" stroke="#1a1a1a" stroke-width="1.35"/>
<line x1="419.71" y1="751.49" x2="433.51" y2="751.49" stroke="#1a1a1a" stroke-width="1.45"/>
<path d="M423.40 742.03L423.40 739.58M423.40 742.03L425.73 741.28M423.40 742.03L424.84 744.02M423.40 742.03L421.96 744.02M423.40 742.03L421.07 741.28" stroke="#000" stroke-width="1.4" stroke-linecap="round" fill="none"/>
<path d="M429.90 742.03L429.90 739.58M429.90 742.03L432.23 741.28M429.90 742.03L431.34 744.02M429.90 742.03L428.46 744.02M429.90 742.03L427.57 741.28" stroke="#000" stroke-width="1.4" stroke-linecap="round" fill="none"/>
<rect x="435.89" y="760.81" width="12.00" height="43.59" fill="#80ffff"/>
<text x="444.29" y="795.80" font-size="10.3" font-weight="normal" text-anchor="middle" fill="#185858" stroke="#185858" stroke-width="0.45">7</text>
<rect x="435.89" y="760.81" width="12.00" height="43.59" fill="none" stroke="#111" stroke-width="1.4"/>
<line x1="441.89" y1="760.81" x2="441.89" y2="753.07" stroke="#1a1a1a" stroke-width="1.35"/>
<line x1="434.99" y1="753.07" x2="448.79" y2="753.07" stroke="#1a1a1a" stroke-width="1.45"/>
<path d="M438.50 742.03L438.50 739.58M438.50 742.03L440.83 741.28M438.50 742.03L439.94 744.02M438.50 742.03L437.06 744.02M438.50 742.03L436.17 741.28" stroke="#000" stroke-width="1.4" stroke-linecap="round" fill="none"/>
<path d="M445.00 742.03L445.00 739.58M445.00 742.03L447.33 741.28M445.00 742.03L446.44 744.02M445.00 742.03L443.56 744.02M445.00 742.03L442.67 741.28" stroke="#000" stroke-width="1.4" stroke-linecap="round" fill="none"/>
<rect x="451.17" y="716.16" width="12.00" height="88.24" fill="#00ffff"/>
<text x="458.87" y="795.80" font-size="10.3" font-weight="normal" text-anchor="middle" fill="#005858" stroke="#005858" stroke-width="0.45">8</text>
<rect x="451.17" y="716.16" width="12.00" height="88.24" fill="none" stroke="#111" stroke-width="1.4"/>
<line x1="457.17" y1="716.16" x2="457.17" y2="703.33" stroke="#1a1a1a" stroke-width="1.35"/>
<line x1="450.27" y1="703.33" x2="464.07" y2="703.33" stroke="#1a1a1a" stroke-width="1.45"/>
<path d="M454.60 693.28L454.60 690.83M454.60 693.28L456.93 692.53M454.60 693.28L456.04 695.27M454.60 693.28L453.16 695.27M454.60 693.28L452.27 692.53" stroke="#000" stroke-width="1.4" stroke-linecap="round" fill="none"/>
<path d="M461.10 693.28L461.10 690.83M461.10 693.28L463.43 692.53M461.10 693.28L462.54 695.27M461.10 693.28L459.66 695.27M461.10 693.28L458.77 692.53" stroke="#000" stroke-width="1.4" stroke-linecap="round" fill="none"/>
<rect x="481.73" y="777.88" width="12.00" height="26.52" fill="#000000"/>
<text x="488.93" y="795.80" font-size="10.3" font-weight="normal" text-anchor="middle" fill="#c8c8c8" stroke="#c8c8c8" stroke-width="0.45">8</text>
<rect x="481.73" y="777.88" width="12.00" height="26.52" fill="none" stroke="#111" stroke-width="1.4"/>
<line x1="487.73" y1="777.88" x2="487.73" y2="771.34" stroke="#1a1a1a" stroke-width="1.35"/>
<line x1="480.83" y1="771.34" x2="494.63" y2="771.34" stroke="#1a1a1a" stroke-width="1.45"/>
<path d="M484.85 761.26L484.85 758.81M484.85 761.26L487.18 760.50M484.85 761.26L486.29 763.24M484.85 761.26L483.41 763.24M484.85 761.26L482.52 760.50" stroke="#000" stroke-width="1.4" stroke-linecap="round" fill="none"/>
<path d="M491.35 761.26L491.35 758.81M491.35 761.26L493.68 760.50M491.35 761.26L492.79 763.24M491.35 761.26L489.91 763.24M491.35 761.26L489.02 760.50" stroke="#000" stroke-width="1.4" stroke-linecap="round" fill="none"/>
<rect x="75.35" y="454.1" width="434.95" height="350.30" fill="none" stroke="#1a1a1a" stroke-width="1.35"/>
<text transform="translate(89.05,829.70) scale(1,1.02)" font-size="14.4" font-weight="bold" text-anchor="middle" fill="#000" >PBS</text>
<text transform="translate(131.60,829.70) scale(1,1.02)" font-size="14.4" font-weight="bold" text-anchor="middle" fill="#000" >V17M</text>
<rect x="122.30" y="827.80" width="3.40" height="2.80" fill="#ffffff"/>
<rect x="127.78" y="827.80" width="3.22" height="2.80" fill="#ffffff"/>
<text transform="translate(194.20,829.70) scale(1,1.02)" font-size="14.4" font-weight="bold" text-anchor="middle" fill="#000" >I16L</text>
<rect x="183.70" y="827.80" width="3.40" height="2.80" fill="#ffffff"/>
<rect x="189.18" y="827.80" width="3.22" height="2.80" fill="#ffffff"/>
<text transform="translate(253.85,829.70) scale(1,1.02)" font-size="14.4" font-weight="bold" text-anchor="middle" fill="#000" >I16M</text>
<rect x="241.75" y="827.80" width="3.40" height="2.80" fill="#ffffff"/>
<rect x="247.23" y="827.80" width="3.22" height="2.80" fill="#ffffff"/>
<text transform="translate(316.40,829.70) scale(1,1.02)" font-size="14.4" font-weight="bold" text-anchor="middle" fill="#000" >V17T</text>
<rect x="308.70" y="827.80" width="3.40" height="2.80" fill="#ffffff"/>
<rect x="314.18" y="827.80" width="3.22" height="2.80" fill="#ffffff"/>
<text transform="translate(380.50,829.70) scale(1,1.02)" font-size="14.4" font-weight="bold" text-anchor="middle" fill="#000" >V17S</text>
<rect x="372.39" y="827.80" width="3.40" height="2.80" fill="#ffffff"/>
<rect x="377.87" y="827.80" width="3.22" height="2.80" fill="#ffffff"/>
<text transform="translate(434.00,829.70) scale(1,1.02)" font-size="14.4" font-weight="bold" text-anchor="middle" fill="#000" >I16T</text>
<rect x="423.50" y="827.80" width="3.40" height="2.80" fill="#ffffff"/>
<rect x="428.98" y="827.80" width="3.22" height="2.80" fill="#ffffff"/>
<text transform="translate(489.75,829.70) scale(1,1.02)" font-size="14.4" font-weight="bold" text-anchor="middle" fill="#000" >WT-PBS</text>
<line x1="117.00" y1="837.90" x2="148.50" y2="837.90" stroke="#1a1a1a" stroke-width="1.6"/>
<line x1="177.60" y1="837.90" x2="332.60" y2="837.90" stroke="#1a1a1a" stroke-width="1.6"/>
<line x1="367.30" y1="837.90" x2="444.60" y2="837.90" stroke="#1a1a1a" stroke-width="1.6"/>
<text x="131.80" y="855.50" font-size="16.2" font-weight="bold" text-anchor="middle" fill="#000" >1</text>
<rect x="127.31" y="853.45" width="3.71" height="2.95" fill="#ffffff"/>
<rect x="133.35" y="853.45" width="3.50" height="2.95" fill="#ffffff"/>
<text x="254.80" y="855.50" font-size="16.2" font-weight="bold" text-anchor="middle" fill="#000" >2</text>
<text x="402.50" y="855.50" font-size="16.2" font-weight="bold" text-anchor="middle" fill="#000" >3</text>
<text transform="translate(266.20,879.10) scale(1,1.06)" font-size="18.0" font-weight="bold" text-anchor="middle" fill="#000" >Zymogen-like variants</text>
<text transform="translate(0.55,470.60) scale(0.955,1.035)" font-size="24.5" font-weight="bold" text-anchor="start" fill="#000" >B</text>
<text transform="translate(17.15,630) rotate(-90)" x="0" y="0" font-size="21.3" font-weight="bold" text-anchor="middle" letter-spacing="0.12">Total Blood Loss (µL)</text>
</svg>
</body></html>
